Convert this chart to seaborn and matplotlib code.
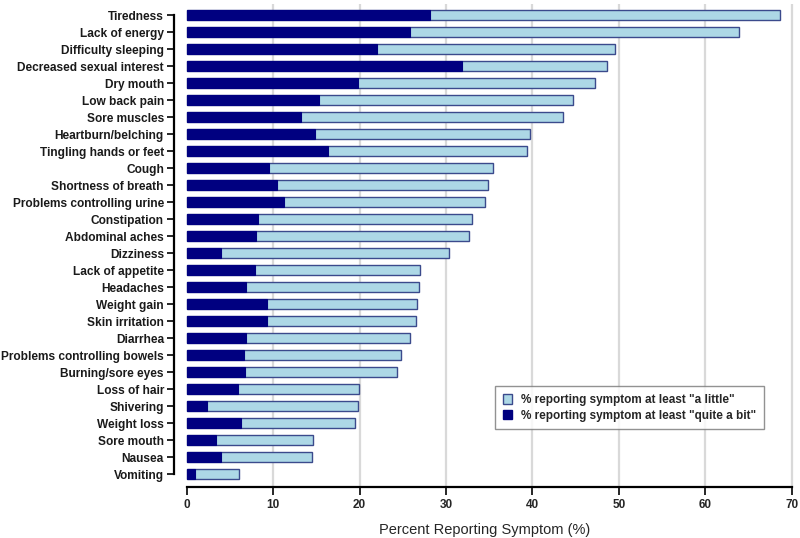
import matplotlib
matplotlib.use("Agg")
import matplotlib.pyplot as plt
import seaborn as sns
import pandas as pd
from matplotlib.patches import Patch

symptoms = ["Tiredness", "Lack of energy", "Difficulty sleeping", "Decreased sexual interest",
            "Dry mouth", "Low back pain", "Sore muscles", "Heartburn/belching",
            "Tingling hands or feet", "Cough", "Shortness of breath", "Problems controlling urine",
            "Constipation", "Abdominal aches", "Dizziness", "Lack of appetite", "Headaches",
            "Weight gain", "Skin irritation", "Diarrhea", "Problems controlling bowels",
            "Burning/sore eyes", "Loss of hair", "Shivering", "Weight loss", "Sore mouth",
            "Nausea", "Vomiting"]
at_least_little = [68.7, 63.9, 49.6, 48.6, 47.2, 44.7, 43.6, 39.7, 39.4, 35.4, 34.9, 34.5,
                   33.0, 32.7, 30.3, 27.0, 26.9, 26.6, 26.5, 25.8, 24.8, 24.3, 19.9, 19.8,
                   19.5, 14.6, 14.5, 6.0]
quite_a_bit = [28.2, 25.8, 22.0, 31.9, 19.8, 15.3, 13.2, 14.8, 16.4, 9.5, 10.5, 11.3,
               8.2, 8.0, 4.0, 7.9, 6.9, 9.3, 9.3, 6.9, 6.6, 6.7, 5.9, 2.4, 6.3, 3.4, 4.0, 1.0]
xticks = [0, 10, 20, 30, 40, 50, 60, 70]
label_little = '% reporting symptom at least "a little"'
label_quite = '% reporting symptom at least "quite a bit"'

df = pd.DataFrame({"symptom": symptoms, "little": at_least_little, "quite": quite_a_bit})

sns.set_style("white")
plt.rcParams["font.family"] = ["Liberation Sans", "DejaVu Sans"]

fig = plt.figure(figsize=(8, 5.38), dpi=100)
ax = fig.add_axes([0.2171, 0.0948, 0.7779, 0.8972])

light = "#add8e6"
dark = "#000080"
edge = "#3b4a8c"

for x in xticks[1:]:
    ax.axvline(x, color="#d9d9d9", lw=1.6, zorder=0)

sns.barplot(data=df, x="little", y="symptom", orient="h", color=light, edgecolor=edge,
            linewidth=1.0, width=0.6, saturation=1, ax=ax, zorder=2)
sns.barplot(data=df, x="quite", y="symptom", orient="h", color=dark, edgecolor=dark,
            linewidth=0.8, width=0.6, saturation=1, ax=ax, zorder=3)

ax.set_xlim(-1.5, 70.5)
ax.set_ylim(27.76, -0.63)
ax.set_xticks(xticks)
ax.set_xticklabels([str(t) for t in xticks], fontweight="bold", fontsize=8.5)
ax.set_yticks(range(len(symptoms)))
ax.set_yticklabels(symptoms, fontweight="bold", fontsize=8.6, color="#1a1a1a")
ax.set_xlabel("Percent Reporting Symptom (%)", fontsize=10.5, labelpad=8)
ax.set_ylabel("")

for s in ["top", "right"]:
    ax.spines[s].set_visible(False)
ax.spines["left"].set_bounds(0, len(symptoms) - 1)
ax.spines["bottom"].set_bounds(0, 70)
for s in ["left", "bottom"]:
    ax.spines[s].set_linewidth(1.6)
    ax.spines[s].set_color("black")
ax.tick_params(axis="x", which="both", direction="out", length=6, width=1.4,
               bottom=True, pad=3)
ax.tick_params(axis="y", which="both", direction="out", length=5, width=1.4,
               left=True, pad=2)

handles = [Patch(facecolor=light, edgecolor=edge, linewidth=1.0, label=label_little),
           Patch(facecolor=dark, edgecolor=dark, label=label_quite)]
leg = ax.legend(handles=handles, loc="lower right", bbox_to_anchor=(0.949, 0.1195),
                borderaxespad=0, fancybox=False, frameon=True, handlelength=0.8,
                handleheight=0.8, handletextpad=0.8, prop={"weight": "bold", "size": 8.5},
                borderpad=0.65, labelspacing=0.3)
leg.get_frame().set_edgecolor("#777777")
leg.get_frame().set_linewidth(1.0)

fig.savefig("out.png", dpi=100)
